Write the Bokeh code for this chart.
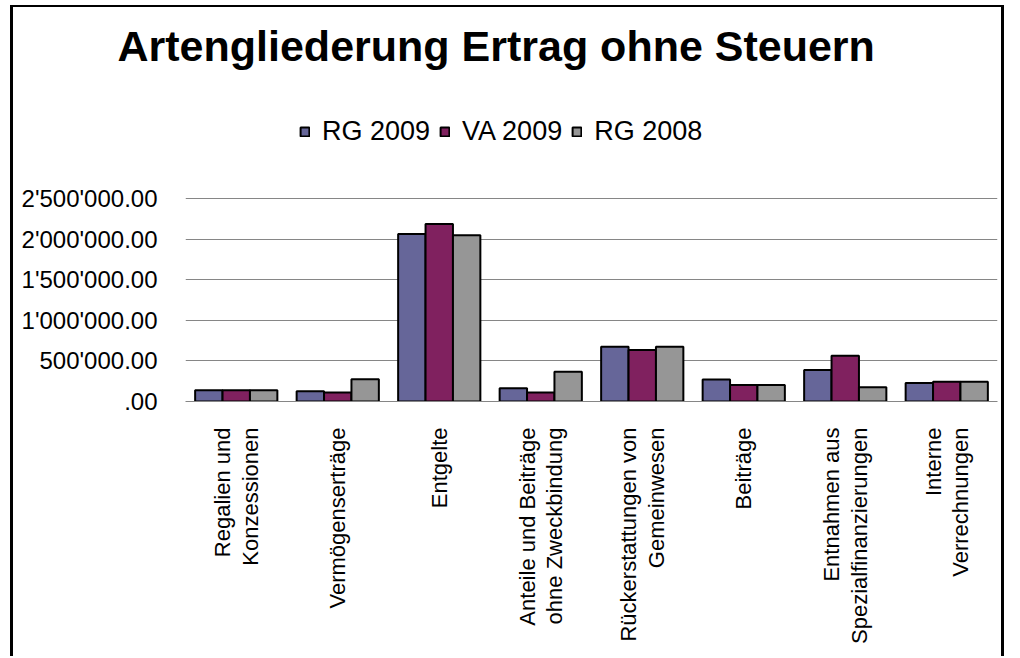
import numpy as np
from bokeh.plotting import figure
from bokeh.models import (ColumnDataSource, FactorRange, Range1d, FixedTicker,
                          Legend, LegendItem)
from bokeh.transform import dodge
from bokeh.embed import file_html
from bokeh.resources import INLINE

title_text = "Artengliederung Ertrag ohne Steuern"
categories = ["Regalien und\nKonzessionen", "Vermögenserträge", "Entgelte",
              "Anteile und Beiträge\nohne Zweckbindung", "Rückerstattungen von\nGemeinwesen",
              "Beiträge", "Entnahmen aus\nSpezialfinanzierungen", "Interne\nVerrechnungen"]
series_names = ["RG 2009", "VA 2009", "RG 2008"]
rg2009 = [138000, 126000, 2065000, 163000, 675000, 270000, 389000, 229000]
va2009 = [138000, 110000, 2188000, 110000, 634000, 205000, 564000, 245000]
rg2008 = [138000, 273000, 2049000, 368000, 675000, 205000, 175000, 245000]
y_ticks = [0, 500000, 1000000, 1500000, 2000000, 2500000]
y_tick_labels = [".00", "500'000.00", "1'000'000.00", "1'500'000.00", "2'000'000.00", "2'500'000.00"]

colors = ["#666699", "#80215F", "#969696"]
FONT = "Liberation Sans"

src = ColumnDataSource(dict(cat=categories, rg2009=rg2009, va2009=va2009, rg2008=rg2008))

# frame starts under the title panel; its upper part holds the legend
FRAME_H = 322
GRID_H = 204  # pixel height of the 0..2.5M value band
y_top = y_ticks[-1] * FRAME_H / GRID_H

p = figure(x_range=FactorRange(*categories), y_range=Range1d(0, y_top),
           width=994, height=651, output_backend="svg", toolbar_location=None,
           min_border_left=172, min_border_right=10, min_border_top=0, min_border_bottom=257,
           styles={"border-top": "2px solid black", "border-left": "3px solid black",
                   "border-right": "3px solid black", "transform": "translate(10px, 5px)"})
p.outline_line_color = None
p.background_fill_color = "white"
p.border_fill_color = "white"

p.title.text = title_text
p.title.text_font = FONT
p.title.text_font_style = "bold"
p.title.text_font_size = "43px"
p.title.text_color = "black"
p.title.align = "left"
p.title.offset = -68
p.title.standoff = 24

bw = 0.27
renderers = []
for i, (col, name) in enumerate(zip(["rg2009", "va2009", "rg2008"], series_names)):
    r = p.vbar(x=dodge("cat", (i - 1) * bw, range=p.x_range), top=col, width=bw, source=src,
               fill_color=colors[i], line_color="black", line_width=2)
    renderers.append(r)

p.xgrid.grid_line_color = None
p.ygrid.grid_line_color = "#868686"
p.ygrid.grid_line_width = 1

p.yaxis.ticker = FixedTicker(ticks=y_ticks)
p.yaxis.major_label_overrides = {t: l for t, l in zip(y_ticks, y_tick_labels)}
p.yaxis.axis_line_color = None
p.yaxis.major_tick_line_color = None
p.yaxis.minor_tick_line_color = None
p.yaxis.major_label_text_font = FONT
p.yaxis.major_label_text_font_size = "24px"
p.yaxis.major_label_text_color = "black"
p.yaxis.major_label_standoff = 22

p.xaxis.axis_line_color = "#868686"
p.xaxis.major_tick_line_color = None
p.xaxis.minor_tick_line_color = None
p.xaxis.major_label_orientation = np.pi / 2
p.xaxis.major_label_text_font = FONT
p.xaxis.major_label_text_font_size = "22px"
p.xaxis.major_label_text_color = "black"
p.xaxis.major_label_text_line_height = 1.1
p.xaxis.major_label_standoff = 20

legend = Legend(items=[LegendItem(label=n, renderers=[r]) for n, r in zip(series_names, renderers)],
                orientation="horizontal", location=(114, 254), padding=0, spacing=9, margin=0,
                label_standoff=12, glyph_width=11, glyph_height=11,
                label_text_font=FONT, label_text_font_size="27px", label_text_color="black",
                border_line_color=None, background_fill_alpha=0)
p.add_layout(legend)

open("out.html", "w").write(file_html(p, INLINE))
